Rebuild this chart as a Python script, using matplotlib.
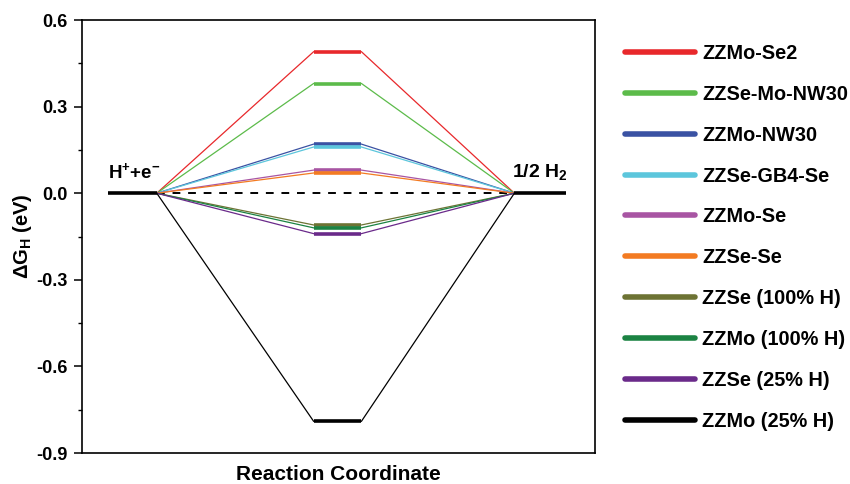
import matplotlib
matplotlib.use("Agg")
import matplotlib.pyplot as plt
from matplotlib.lines import Line2D

plt.rcParams['font.family'] = ['Liberation Sans', 'DejaVu Sans']
plt.rcParams['font.weight'] = 'bold'
plt.rcParams['mathtext.fontset'] = 'custom'
plt.rcParams['mathtext.rm'] = 'Liberation Sans:bold'
plt.rcParams['mathtext.bf'] = 'Liberation Sans:bold'
plt.rcParams['mathtext.it'] = 'Liberation Sans:bold'

# ---- data ----
labels = ["ZZMo-Se2", "ZZSe-Mo-NW30", "ZZMo-NW30", "ZZSe-GB4-Se", "ZZMo-Se",
          "ZZSe-Se", "ZZSe (100% H)", "ZZMo (100% H)", "ZZSe (25% H)", "ZZMo (25% H)"]
dG = [0.49, 0.38, 0.17, 0.16, 0.08, 0.07, -0.11, -0.12, -0.14, -0.79]
colors = ["#E8282B", "#5CBB4A", "#3A52A3", "#5CC6DC", "#A855A3",
          "#F37B22", "#6D7334", "#1B8343", "#6A2A8A", "#000000"]
initial_label = r"$\mathbf{H^{+}{+}e^{-}}$"
final_label = r"1/2 H$_\mathbf{2}$"
yticks = [0.6, 0.3, 0.0, -0.3, -0.6, -0.9]

# ---- layout (x positions of levels) ----
L0, L1 = 0.53, 1.53
M0, M1 = 4.74, 5.72
R0, R1 = 8.85, 9.90

fig = plt.figure(figsize=(8.5, 4.84), dpi=100)
ax = fig.add_axes([82/850, 1-453/484, (595-82)/850, (453-20)/484])

for v, c in zip(dG, colors):
    ax.plot([L1, M0], [0, v], color=c, lw=0.9, zorder=2)
    ax.plot([M1, R0], [v, 0], color=c, lw=0.9, zorder=2)
for v, c in zip(dG, colors):
    ax.plot([M0, M1], [v, v], color=c, lw=2.6, zorder=3, solid_capstyle='butt')

ax.plot([L1, R0], [0, 0], color='black', lw=1.4, ls=(0, (4, 4)), zorder=1)
ax.plot([L0, L1], [0, 0], color='black', lw=2.6, zorder=4, solid_capstyle='butt')
ax.plot([R0, R1], [0, 0], color='black', lw=2.6, zorder=4, solid_capstyle='butt')

ax.text((L0 + L1) / 2 + 0.03, 0.04, initial_label, ha='center', va='bottom', fontsize=13.5)
ax.text((R0 + R1) / 2, 0.04, final_label, ha='center', va='bottom', fontsize=14,
        fontweight='bold')

ax.set_xlim(0, 10.5)
ax.set_ylim(-0.9, 0.6)
ax.set_xticks([])
ax.set_yticks(yticks)
ax.set_yticklabels([f"{t:.1f}" for t in yticks], fontsize=13, fontweight='bold')
ax.set_yticks([0.45, 0.15, -0.15, -0.45, -0.75], minor=True)
ax.tick_params(axis='y', which='major', direction='out', length=6, width=1.1, pad=4.5)
ax.tick_params(axis='y', which='minor', direction='out', length=3, width=1.0)
for s in ax.spines.values():
    s.set_linewidth(1.2)

ax.set_xlabel("Reaction Coordinate", fontsize=15, fontweight='bold')
ax.xaxis.set_label_coords(0.5, -0.049, transform=ax.transAxes)
ax.xaxis.label.set_va('center')
ax.set_ylabel(r"$\mathbf{\Delta G_H}$ (eV)", fontsize=14.5, fontweight='bold')
ax.yaxis.set_label_coords(-(82-23)/513, 0.5)
ax.yaxis.label.set_va('center')

handles = [Line2D([0], [0], color=c, lw=4, solid_capstyle='round') for c in colors]
leg = fig.legend(handles, labels, loc='upper left', bbox_to_anchor=(625/850, 1-44/484),
                 frameon=False, fontsize=14.3, handlelength=3.5, handletextpad=0.4,
                 labelspacing=1.1, borderaxespad=0, borderpad=0)
for t in leg.get_texts():
    t.set_fontweight('bold')

fig.savefig("out.png", dpi=100)
